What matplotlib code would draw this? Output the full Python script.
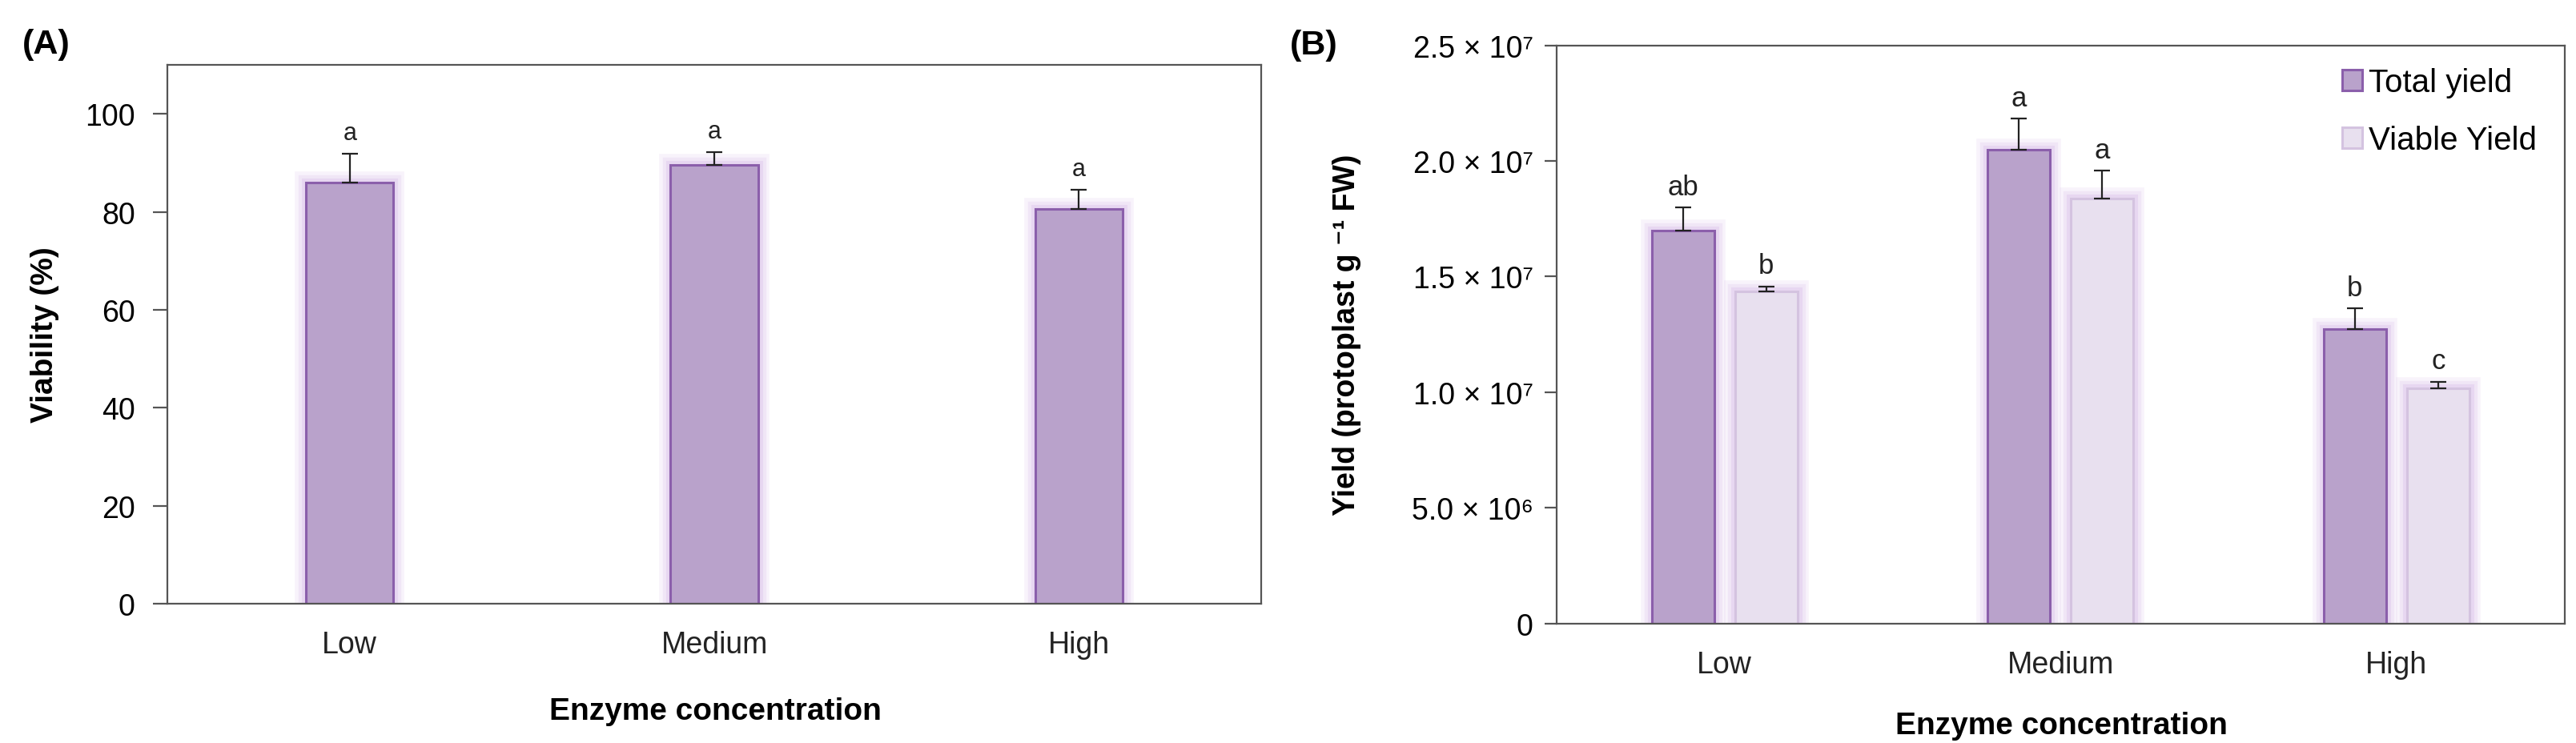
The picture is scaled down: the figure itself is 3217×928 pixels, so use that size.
import matplotlib
matplotlib.use("Agg")
import matplotlib.pyplot as plt
import numpy as np

# ---- data ----
categories = ["Low", "Medium", "High"]
viability = [86.0, 89.6, 80.6]
viability_err = [5.8, 2.6, 3.9]
viability_letters = ["a", "a", "a"]

total_yield = [1.70e7, 2.05e7, 1.274e7]
total_err = [0.098e7, 0.132e7, 0.088e7]
total_letters = ["ab", "a", "b"]

viable_yield = [1.434e7, 1.838e7, 1.017e7]
viable_err = [0.024e7, 0.119e7, 0.029e7]
viable_letters = ["b", "a", "c"]

yticks_b = [0, 5e6, 1e7, 1.5e7, 2e7, 2.5e7]
yticklabels_b = ["0", "5.0 × 10⁶", "1.0 × 10⁷", "1.5 × 10⁷", "2.0 × 10⁷", "2.5 × 10⁷"]

# ---- style ----
FONT = ["Liberation Sans", "DejaVu Sans"]
plt.rcParams["font.family"] = FONT
TOTAL_FILL = "#b9a2cb"
TOTAL_EDGE = "#8b5fab"
VIABLE_FILL = "#e8e0ef"
VIABLE_EDGE = "#d4c3e0"
GLOW = "#c9a4e2"
SPINE = "#555555"
ERR = "#222222"

fig = plt.figure(figsize=(32.17, 9.29), dpi=100)
fig.patch.set_facecolor("white")


def glow_bars(ax, x, h, w, color):
    for lw, a in [(20, 0.12), (14, 0.16), (8, 0.22)]:
        ax.bar(x, h, w, color="none", edgecolor=color, linewidth=lw,
               alpha=a, zorder=1)


def style_axes(ax):
    for s in ax.spines.values():
        s.set_color(SPINE)
        s.set_linewidth(1.6)
    ax.tick_params(axis="x", length=0, labelsize=27, pad=24, colors="#222222")


# ---- Panel A ----
axA = fig.add_axes([0.065, 0.1873, 0.4246, 0.7244])
xA = np.arange(len(categories))
wA = 0.24
glow_bars(axA, xA, viability, wA, GLOW)
axA.bar(xA, viability, wA, color=TOTAL_FILL, edgecolor=TOTAL_EDGE,
        linewidth=2.2, zorder=2)
axA.errorbar(xA, viability, yerr=[np.zeros(3), viability_err], fmt="none",
             ecolor=ERR, elinewidth=1.6, capsize=7, capthick=1.6, zorder=3)
for xi, v, e, t in zip(xA, viability, viability_err, viability_letters):
    axA.annotate(t, (xi, v + e), xytext=(0, 8), textcoords="offset points",
                 ha="center", va="bottom", fontsize=22, color="#222222")
axA.set_xlim(-0.5, 2.5)
axA.set_ylim(0, 110)
axA.set_yticks([0, 20, 40, 60, 80, 100])
axA.set_xticks(xA)
axA.set_xticklabels(categories)
style_axes(axA)
axA.tick_params(axis="y", direction="out", length=13, width=1.6,
                color=SPINE, labelsize=27, pad=16)
axA.set_ylabel("Viability (%)", fontsize=28, fontweight="bold")
axA.yaxis.set_label_coords(-0.099, 0.5)
axA.set_xlabel("Enzyme concentration", fontsize=28, fontweight="bold")
axA.xaxis.set_label_coords(0.5007, -0.172)

# ---- Panel B ----
axB = fig.add_axes([0.6043, 0.1608, 0.3912, 0.7772])
xB = np.arange(len(categories))
wB = 0.186
off = 0.124
glow_bars(axB, xB - off, total_yield, wB, GLOW)
glow_bars(axB, xB + off, viable_yield, wB, GLOW)
axB.bar(xB - off, total_yield, wB, color=TOTAL_FILL, edgecolor=TOTAL_EDGE,
        linewidth=2.2, zorder=2, label="Total yield")
axB.bar(xB + off, viable_yield, wB, color=VIABLE_FILL, edgecolor=VIABLE_EDGE,
        linewidth=2.2, zorder=2, label="Viable Yield")
axB.errorbar(xB - off, total_yield, yerr=[np.zeros(3), total_err], fmt="none",
             ecolor=ERR, elinewidth=1.6, capsize=7, capthick=1.6, zorder=3)
axB.errorbar(xB + off, viable_yield, yerr=[np.zeros(3), viable_err], fmt="none",
             ecolor=ERR, elinewidth=1.6, capsize=7, capthick=1.6, zorder=3)
for xi, v, e, t in zip(xB - off, total_yield, total_err, total_letters):
    axB.annotate(t, (xi, v + e), xytext=(0, 7), textcoords="offset points",
                 ha="center", va="bottom", fontsize=25, color="#222222")
for xi, v, e, t in zip(xB + off, viable_yield, viable_err, viable_letters):
    axB.annotate(t, (xi, v + e), xytext=(0, 7), textcoords="offset points",
                 ha="center", va="bottom", fontsize=25, color="#222222")
axB.set_xlim(-0.5, 2.5)
axB.set_ylim(0, 2.5e7)
axB.set_yticks(yticks_b)
axB.set_yticklabels(yticklabels_b)
axB.set_xticks(xB)
axB.set_xticklabels(categories)
style_axes(axB)
axB.tick_params(axis="y", direction="out", length=11, width=1.6,
                color=SPINE, labelsize=27, pad=10)
axB.set_ylabel("Yield (protoplast g ⁻¹ FW)", fontsize=27, fontweight="bold")
axB.yaxis.set_label_coords(-0.194, 0.5)
axB.set_xlabel("Enzyme concentration", fontsize=28, fontweight="bold")
axB.xaxis.set_label_coords(0.5006, -0.151)
axB.legend(loc="upper left", bbox_to_anchor=(0.7795, 0.962), frameon=False,
           fontsize=29, handlelength=0.62, handleheight=0.62,
           handletextpad=0.2, labelspacing=0.85, borderpad=0, borderaxespad=0)

# ---- panel labels ----
fig.text(28 / 3217, 1 - 56 / 929, "(A)", fontsize=31, fontweight="bold",
         ha="left", va="center")
fig.text(1611 / 3217, 1 - 57 / 929, "(B)", fontsize=31, fontweight="bold",
         ha="left", va="center")

fig.savefig("out.png", dpi=100, facecolor="white")
